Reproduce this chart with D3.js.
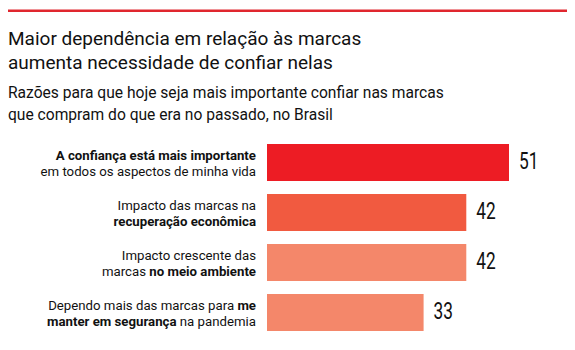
<!DOCTYPE html>
<html>
<head>
<meta charset="utf-8">
<script src="https://cdn.jsdelivr.net/npm/d3@7"></script>
<style>
  body { margin: 0; background: #fff; }
  svg { display: block; }
  .title { font-family: Roboto, sans-serif; font-size: 19px; fill: #111; }
  .sub { font-family: Roboto, sans-serif; font-size: 16px; fill: #111; }
  .lab { font-family: Roboto, sans-serif; font-size: 13.5px; fill: #111; }
  .val { font-family: Roboto, sans-serif; font-size: 24px; fill: #111; }
</style>
</head>
<body>
<svg width="575" height="350"></svg>
<script>
// chart data
var categories = ['confianca', 'economia', 'ambiente', 'seguranca'];
var values = [51, 42, 42, 33];
var colors = ['#ed1c24', '#f15a40', '#f4876a', '#f4876a'];
// label lines, each one a list of [text, bold]
var labels = [
    [[['A confiança está mais importante', true]], [['em todos os aspectos de minha vida', false]]],
    [[['Impacto das marcas na', false]], [['recuperação econômica', true]]],
    [[['Impacto crescente das', false]], [['marcas ', false], ['no meio ambiente', true]]],
    [[['Dependo mais das marcas para ', false], ['me', true]], [['manter em segurança', true], [' na pandemia', false]]]
];
var titleLines = ['Maior dependência em relação às marcas', 'aumenta necessidade de confiar nelas'];
var subLines = ['Razões para que hoje seja mais importante confiar nas marcas', 'que compram do que era no passado, no Brasil'];

// horizontal squeeze to imitate the condensed face
var subSqueeze = 0.975, labSqueeze = 0.98, valSqueeze = 0.72;

var svg = d3.select('svg');

function place(x, y, s) {
    return 'translate(' + x + ',' + y + ') scale(' + s + ',1)';
}

// top red rule
svg.append('rect')
    .attr('x', 8).attr('y', 9.5)
    .attr('width', 559).attr('height', 2.5)
    .attr('fill', '#e0262e');

svg.selectAll('.title')
    .data(titleLines)
    .enter().append('text')
    .attr('class', 'title')
    .attr('x', 8)
    .attr('y', (d, i) => 45 + i * 24)
    .text(d => d);

svg.selectAll('.sub')
    .data(subLines)
    .enter().append('text')
    .attr('class', 'sub')
    .attr('transform', (d, i) => place(8, 98 + i * 22, subSqueeze))
    .text(d => d);

var xScale = d3.scaleLinear()
    .domain([0, 51])
    .range([267, 509]);

var yScale = d3.scaleBand()
    .domain(categories)
    .range([144, 331])
    .paddingInner(0.26)
    .paddingOuter(0);

var rows = svg.selectAll('.row')
    .data(categories)
    .enter().append('g')
    .attr('class', 'row');

rows.append('rect')
    .attr('x', xScale(0))
    .attr('y', d => yScale(d))
    .attr('width', (d, i) => xScale(values[i]) - xScale(0))
    .attr('height', yScale.bandwidth())
    .attr('fill', (d, i) => colors[i]);

rows.append('text')
    .attr('class', 'val')
    .attr('transform', (d, i) => place(xScale(values[i]) + 10, yScale(d) + yScale.bandwidth() / 2 + 6, valSqueeze))
    .text((d, i) => values[i]);

rows.each(function(d, i) {
    var g = d3.select(this);
    var cy = yScale(d) + yScale.bandwidth() / 2;
    labels[i].forEach(function(line, j) {
        var t = g.append('text')
            .attr('class', 'lab')
            .attr('text-anchor', 'end')
            .attr('transform', place(256, cy - 3 + j * 16, labSqueeze));
        line.forEach(function(seg) {
            t.append('tspan')
                .attr('font-weight', seg[1] ? 'bold' : 'normal')
                .text(seg[0]);
        });
    });
});
</script>
</body>
</html>
